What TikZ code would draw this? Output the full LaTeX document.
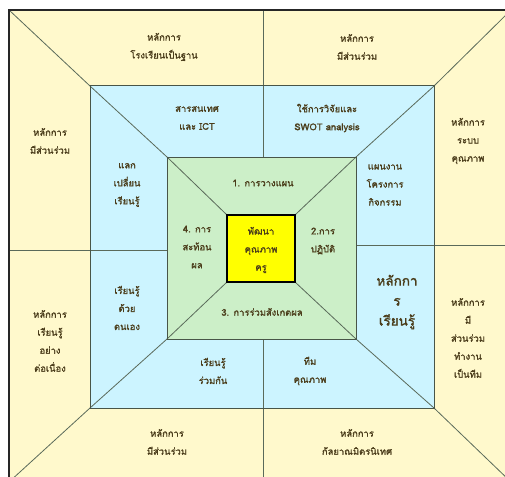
\documentclass[tikz,border=0pt]{standalone}
\usepackage{fontspec}
\newfontfamily\thaifont[Script=Thai,FakeBold=1.4]{Loma}
\definecolor{cream}{HTML}{FFF9CC}
\definecolor{skyb}{HTML}{CCF4FF}
\definecolor{mint}{HTML}{CCEFC8}
\definecolor{core}{HTML}{FFFF00}
\definecolor{txt}{HTML}{4A3C1A}
\definecolor{linec}{HTML}{5A6A5A}
\begin{document}
\begin{tikzpicture}[x=1pt,y=-1pt,
  lbl/.style={font=\thaifont\fontsize{9.4}{18}\selectfont, align=center, text=txt, inner sep=0pt},
  biglbl/.style={font=\thaifont\fontsize{13.5}{20}\selectfont, align=center, text=txt, inner sep=0pt},
  divline/.style={draw=linec, line width=0.8pt},
  ringborder/.style={draw=linec!80!black, line width=1pt}]
\useasboundingbox (0,0) rectangle (505,476);
\clip (0,0) rectangle (505,476);
\fill[white] (0,0) rectangle (505,476);
% corners
\coordinate (o1) at (9,10);   \coordinate (o2) at (511,10);
\coordinate (o3) at (511,482); \coordinate (o4) at (9,482);
\coordinate (b1) at (90,86);  \coordinate (b2) at (434,86);
\coordinate (b3) at (434,408); \coordinate (b4) at (90,408);
\coordinate (g1) at (167,157); \coordinate (g2) at (356,157);
\coordinate (g3) at (356,339); \coordinate (g4) at (167,339);
\coordinate (y1) at (227,215); \coordinate (y2) at (295,215);
\coordinate (y3) at (295,282); \coordinate (y4) at (227,282);
% fills
\fill[cream] (o1) rectangle (o3);
\fill[skyb] (b1) rectangle (b3);
\fill[mint] (g1) rectangle (g3);
% divider lines
\coordinate (tv1) at (263,10);  \coordinate (tv2) at (263,157);
\coordinate (bv1) at (263,339); \coordinate (bv2) at (263,482);
\coordinate (lh1) at (9,250);   \coordinate (lh2) at (167,250);
\coordinate (rh1) at (356,245); \coordinate (rh2) at (511,245);
\draw[divline] (tv1) -- (tv2);
\draw[divline] (bv1) -- (bv2);
\draw[divline] (lh1) -- (lh2);
\draw[divline] (rh1) -- (rh2);
\draw[divline] (o1) -- (b1) -- (g1) -- (y1);
\draw[divline] (o2) -- (b2) -- (g2) -- (y2);
\draw[divline] (o3) -- (b3) -- (g3) -- (y3);
\draw[divline] (o4) -- (b4) -- (g4) -- (y4);
% borders
\draw[ringborder] (b1) rectangle (b3);
\draw[ringborder] (g1) rectangle (g3);
\draw[draw=black!85, line width=1.6pt] (o1) rectangle (o3);
\draw[fill=core, draw=black, line width=2.4pt] (y1) rectangle (y3);
% outer ring labels
\node[lbl] (t1) at (164,47) {หลักการ\\โรงเรียนเป็นฐาน};
\node[lbl] (t2) at (357,47) {หลักการ\\มีส่วนร่วม};
\node[lbl] (t3) at (50,141) {หลักการ\\มีส่วนร่วม};
\node[lbl] (t4) at (468,141) {หลักการ\\ระบบ\\คุณภาพ};
\node[lbl] (t5) at (50,341) {หลักการ\\เรียนรู้\\อย่าง\\ต่อเนื่อง};
\node[lbl] (t6) at (468,338) {หลักการ\\มี\\ส่วนร่วม\\ทำงาน\\เป็นทีม};
\node[lbl] (t7) at (167,442) {หลักการ\\มีส่วนร่วม};
\node[lbl] (t8) at (357,442) {หลักการ\\กัลยาณมิตรนิเทศ};
% middle ring labels
\node[lbl] (m1) at (197,118) {สารสนเทศ\\และ ICT};
\node[lbl] (m2) at (327,118) {ใช้การวิจัยและ\\SWOT analysis};
\node[lbl] (m3) at (127,185) {แลก\\เปลี่ยน\\เรียนรู้};
\node[lbl] (m4) at (385,185) {แผนงาน\\โครงการ\\กิจกรรม};
\node[lbl] (m5) at (127,308) {เรียนรู้\\ด้วย\\ตนเอง};
\node[biglbl] (m6) at (397,302) {หลักกา\\ร\\เรียนรู้};
\node[lbl] (m7) at (213,371) {เรียนรู้\\ร่วมกัน};
\node[lbl] (m8) at (310,371) {ทีม\\คุณภาพ};
% inner ring labels
\node[lbl] (i1) at (263,183) {1. การวางแผน};
\node[lbl] (i2) at (323,241) {2.การ\\ปฏิบัติ};
\node[lbl] (i3) at (262,312) {3. การร่วมสังเกตผล};
\node[lbl] (i4) at (197,247) {4. การ\\สะท้อน\\ผล};
% core
\node[lbl] (c) at (261,250) {พัฒนา\\คุณภาพ\\ครู};
\end{tikzpicture}
\end{document}
